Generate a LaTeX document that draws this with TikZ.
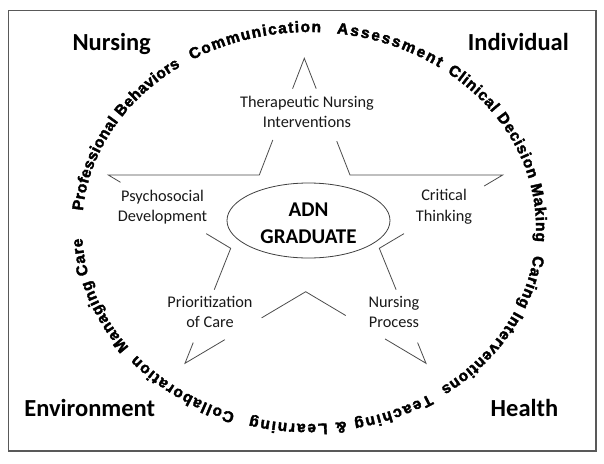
\documentclass[tikz,border=0pt]{standalone}
\usepackage{fontspec}
\setmainfont{Carlito}
\newfontfamily\ringfont{Liberation Sans}[BoldFeatures={FakeBold=2.4}]
\usetikzlibrary{calc,decorations.text,shapes.geometric}
\begin{document}
\begin{tikzpicture}[x=1pt,y=1pt,
  corner/.style={font=\fontsize{24.5}{28}\selectfont\bfseries, anchor=base, inner sep=0pt},
  lab/.style={font=\fontsize{16.3}{20.3}\selectfont, align=center, inner sep=0pt, text=black!90},
  starline/.style={draw=black!70, line width=0.8pt},
  ring/.style={decorate, decoration={text along path, text align=fit to path,
     text={#1}}}
]
\useasboundingbox (0,0) rectangle (604,-463);
\fill[white] (0,0) rectangle (604,-463);
% frame
\draw[draw=black!65, line width=1.3pt] (8.3,-10.7) rectangle (596,-451);

% corner labels
\node[corner] (nursing) at (111.7,-50) {Nursing};
\node[corner] (individual) at (518.3,-50) {Individual};
\node[corner] (environment) at (89.7,-416.7) {Environment};
\node[corner] (health) at (524.5,-416.7) {Health};

% star vertices
\coordinate (T) at (304.3,-58.3);
\coordinate (IUL) at (259.3,-175);
\coordinate (IUR) at (350,-175);
\coordinate (LT) at (108.3,-175);
\coordinate (RT) at (502.7,-175);
\coordinate (ILL) at (230.7,-248.3);
\coordinate (ILR) at (379.3,-248.3);
\coordinate (BLT) at (185,-363.3);
\coordinate (BRT) at (426,-363.3);
\coordinate (IB) at (305.7,-291.7);

% star outline (interrupted by the labels)
\draw[starline] ($(T)!0.26!(IUL)$) -- (T) -- ($(T)!0.26!(IUR)$);
\draw[starline] ($(T)!0.70!(IUL)$) -- (IUL) -- (LT) -- ($(LT)!0.10!(ILL)$);
\draw[starline] ($(T)!0.71!(IUR)$) -- (IUR) -- (RT) -- ($(RT)!0.15!(ILR)$);
\draw[starline] ($(LT)!0.80!(ILL)$) -- (ILL) -- ($(ILL)!0.36!(BLT)$);
\draw[starline] ($(RT)!0.80!(ILR)$) -- (ILR) -- ($(ILR)!0.36!(BRT)$);
\draw[starline] ($(ILL)!0.82!(BLT)$) -- (BLT) -- ($(BLT)!0.33!(IB)$);
\draw[starline] ($(ILR)!0.82!(BRT)$) -- (BRT) -- ($(BRT)!0.34!(IB)$);
\draw[starline] ($(BLT)!0.635!(IB)$) -- (IB) -- ($(BRT)!0.667!(IB)$);

% center ellipse
\node[ellipse, draw=black!75, line width=0.8pt, minimum width=163pt, minimum height=75pt, inner sep=0pt] (adn) at (308.5,-220.5) {};
\node[font=\fontsize{21}{27.3}\selectfont\bfseries, align=center, inner sep=0pt] (adntext) at (308.5,-223.3) {ADN\\GRADUATE};

% star labels
\node[lab] (tni) at (307,-112) {Therapeutic Nursing\\Interventions};
\node[lab] (psy) at (162.5,-206.8) {Psychosocial\\Development};
\node[lab] (crit) at (444,-206.8) {Critical\\Thinking};
\node[lab] (prio) at (210,-312) {Prioritization\\of Care};
\node[lab] (proc) at (394,-312) {Nursing\\Process};

% ring texts (clockwise, letters outward)
\begin{scope}
\ringfont\bfseries\fontsize{15.5}{17}\selectfont
\coordinate (C) at (309,-228);
\path[ring={Professional Behaviors}] (C) ++(175:227pt and 196pt) arc[start angle=175, end angle=124.5, x radius=227pt, y radius=196pt];
\path[ring={Communication}] (C) ++(121:227pt and 196pt) arc[start angle=121, end angle=87, x radius=227pt, y radius=196pt];
\path[ring={Assessment}] (C) ++(83:227pt and 196pt) arc[start angle=83, end angle=55, x radius=227pt, y radius=196pt];
\path[ring={Clinical Decision Making}] (C) ++(52.5:227pt and 196pt) arc[start angle=52.5, end angle=-4, x radius=227pt, y radius=196pt];
\path[ring={Caring Interventions}] (C) ++(-8:227pt and 196pt) arc[start angle=-8, end angle=-54.5, x radius=227pt, y radius=196pt];
\path[ring={Teaching {\&} Learning}] (C) ++(-58:227pt and 196pt) arc[start angle=-58, end angle=-105, x radius=227pt, y radius=196pt];
\path[ring={Collaboration}] (C) ++(-109:227pt and 196pt) arc[start angle=-109, end angle=-139.5, x radius=227pt, y radius=196pt];
\path[ring={Managing Care}] (C) ++(-142.5:227pt and 196pt) arc[start angle=-142.5, end angle=-177, x radius=227pt, y radius=196pt];
\end{scope}
\end{tikzpicture}
\end{document}
